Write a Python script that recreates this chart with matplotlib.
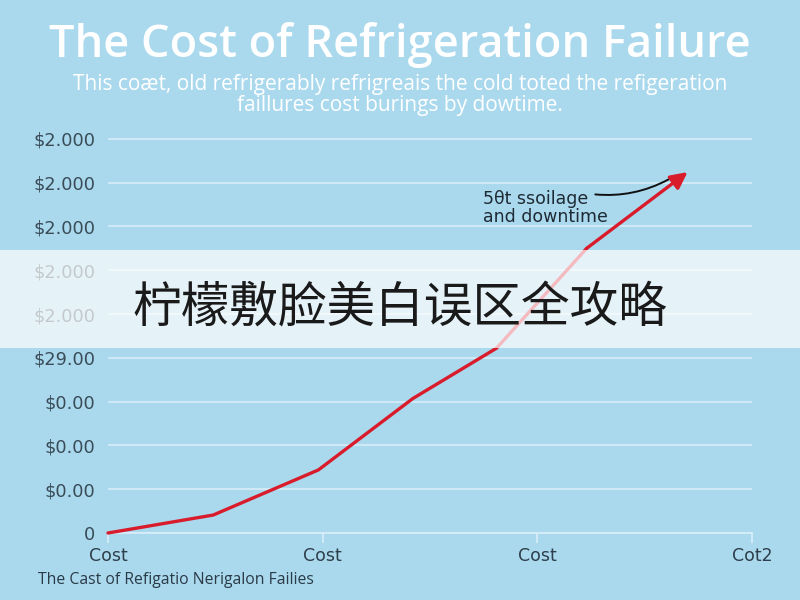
import matplotlib
matplotlib.use('Agg')
import matplotlib.pyplot as plt
from matplotlib.patches import Rectangle

# data (y in gridline units)
x_vals = [0, 0.49, 0.98, 1.42, 1.81, 2.23]
y_vals = [0, 0.41, 1.44, 3.07, 4.22, 6.50]
arrow_tip = (2.70, 8.24)

y_ticks = [0, 1, 2, 3, 4, 5, 6, 7, 8, 9]
y_labels = ['0', '$0.00', '$0.00', '$0.00', '$29.00',
            '$2.000', '$2.000', '$2.000', '$2.000', '$2.000']
x_ticks = [0, 1, 2, 3]
x_labels = ['Cost', 'Cost', 'Cost', 'Cot2']

title = 'The Cost of Refrigeration Failure'
subtitle = ('This coæt, old refrigerably refrigreais the cold toted the refigeration\n'
            'faillures cost burings by dowtime.')
footnote = 'The Cast of Refigatio Nerigalon Failies'
note = '5θt ssoilage\nand downtime'
banner = '柠檬敷脸美白误区全攻略'

bg = '#aad9ee'
plt.rcParams['font.family'] = ['DejaVu Sans']

fig = plt.figure(figsize=(8, 6), dpi=100, facecolor=bg)
# axes: x from 108px to 752px, y=0 at 533px, 43.8px per unit
ax = fig.add_axes([108 / 800, 67 / 600, 644 / 800, 9.3 * 43.8 / 600])
ax.set_facecolor(bg)
ax.set_xlim(0, 3)
ax.set_ylim(0, 9.3)

for s in ['top', 'right', 'left']:
    ax.spines[s].set_visible(False)
ax.spines['bottom'].set_color('#d8eef8')
ax.spines['bottom'].set_linewidth(1.2)

ax.set_yticks(y_ticks)
ax.set_yticklabels(y_labels, fontsize=12.8, color='#3a4c58')
ax.tick_params(axis='y', length=0, pad=9)
ax.set_xticks(x_ticks)
ax.set_xticklabels(x_labels, fontsize=12.5, color='#2e3e4a')
ax.tick_params(axis='x', length=7, width=1.2, color='#d8eef8', pad=3)
ax.yaxis.grid(True, color='#d3ecf7', linewidth=1.3)
ax.set_axisbelow(True)

ax.plot(x_vals, y_vals, color='#d81c2c', linewidth=2.4, solid_capstyle='round',
        clip_on=False, zorder=3)
ax.annotate('', xy=arrow_tip, xytext=(x_vals[-1], y_vals[-1]),
            arrowprops=dict(arrowstyle='-|>,head_length=1.0,head_width=0.5',
                            color='#d81c2c', lw=2.4, shrinkA=0, shrinkB=0),
            annotation_clip=False, zorder=3)

# callout
ax.text(1.745, 7.42, note, fontsize=12.5, color='#1e2a33', ha='left', va='center',
        linespacing=1.0)
ax.annotate('', xy=(2.61, 8.07), xytext=(2.27, 7.73),
            arrowprops=dict(arrowstyle='-', color='#111111', lw=1.4,
                            connectionstyle='arc3,rad=0.15', shrinkA=0, shrinkB=0))

# titles
fig.text(0.5, 1 - 45 / 600, title, ha='center', va='center', fontsize=32.5,
         fontweight='semibold', color='white', family='Open Sans')
fig.text(0.5, 1 - 95 / 600, subtitle, ha='center', va='center', fontsize=15,
         color='white', family='Open Sans', linespacing=0.98)
fig.text(38 / 800, 1 - 580 / 600, footnote, ha='left', va='center', fontsize=11.3,
         color='#2a3a46', family='Open Sans')

# overlay band
fig.patches.append(Rectangle((0, 1 - 348 / 600), 1, 98 / 600, transform=fig.transFigure,
                             facecolor='white', alpha=0.7, edgecolor='none', zorder=10))
fig.text(0.5, 1 - 308 / 600, banner, ha='center', va='center', fontsize=35,
         color='#1a1a1a', family=['Noto Sans CJK SC', 'DejaVu Sans'], zorder=11)

plt.savefig('out.png', dpi=100, facecolor=bg)
